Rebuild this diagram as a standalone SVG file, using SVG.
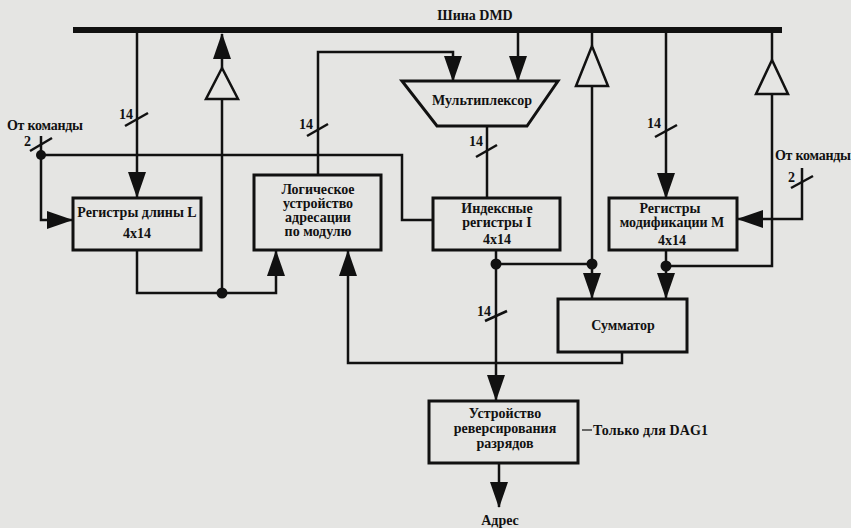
<svg xmlns="http://www.w3.org/2000/svg" width="851" height="528" viewBox="0 0 851 528">
<style>
text{font-family:"Liberation Serif","Times New Roman",serif;font-weight:bold;fill:#111;}
.t{font-size:14px;text-anchor:middle;}
.s{font-size:14px;}
.box{fill:none;stroke:#111;stroke-width:3;}
.w{fill:none;stroke:#111;stroke-width:2.5;}
.buf{fill:none;stroke:#111;stroke-width:2.5;}
.dot{fill:#111;}
</style>
<defs>
<marker id="arr" markerUnits="userSpaceOnUse" markerWidth="26" markerHeight="18" viewBox="0 0 26 18" refX="25" refY="9" orient="auto">
<path d="M0,0 L26,9 L0,18 z" fill="#111"/>
</marker>
</defs>
<rect width="851" height="528" fill="#e5e5e3"/>

<g id="bus">
<rect x="73" y="27" width="709" height="6" fill="#111"/>
<text class="t" x="475" y="20">Шина DMD</text>
</g>

<g id="connectors">
<!-- bus to L regs -->
<path class="w" d="M137,33 V197" marker-end="url(#arr)"/>
<line class="w" x1="125" y1="126" x2="148" y2="113"/>
<text class="s" x="119" y="119">14</text>
<!-- buffer 1 to bus -->
<path class="w" d="M222,99 V293"/>
<path class="w" d="M222,68 V34" marker-end="url(#arr)"/>
<!-- left command input -->
<path class="w" d="M41,136 V220 H72" marker-end="url(#arr)"/>
<line class="w" x1="30" y1="151" x2="52" y2="138"/>
<text class="s" x="24" y="146">2</text>
<text class="s" x="7" y="130" textLength="76">От команды</text>
<circle class="dot" cx="41" cy="155" r="5"/>
<path class="w" d="M41,155 H402 V220 H433"/>
<!-- L regs to modulo logic -->
<path class="w" d="M137,250 V293 H276 V251" marker-end="url(#arr)"/>
<circle class="dot" cx="222" cy="293" r="5.5"/>
<!-- modulo logic to multiplexer -->
<path class="w" d="M318,175 V52 H453 V81" marker-end="url(#arr)"/>
<line class="w" x1="307" y1="136" x2="328" y2="124"/>
<text class="s" x="299" y="129">14</text>
<!-- bus to multiplexer -->
<path class="w" d="M518,33 V81" marker-end="url(#arr)"/>
<!-- multiplexer to I regs -->
<path class="w" d="M487,126 V198"/>
<line class="w" x1="476" y1="157" x2="497" y2="145"/>
<text class="s" x="469" y="146">14</text>
<!-- buffer 2 -->
<path class="w" d="M592,33 V46"/>
<path class="w" d="M592,86 V264"/>
<path class="w" d="M592,264 V298" marker-end="url(#arr)"/>
<!-- I regs outputs -->
<path class="w" d="M496,250 V264 H592"/>
<circle class="dot" cx="496" cy="264" r="5.5"/>
<circle class="dot" cx="592" cy="264" r="5.5"/>
<path class="w" d="M496,264 V400" marker-end="url(#arr)"/>
<line class="w" x1="485" y1="321" x2="507" y2="311"/>
<text class="s" x="477" y="316">14</text>
<!-- bus to M regs -->
<path class="w" d="M666,33 V198" marker-end="url(#arr)"/>
<line class="w" x1="655" y1="137" x2="677" y2="125"/>
<text class="s" x="647" y="128">14</text>
<!-- buffer 3 -->
<path class="w" d="M772,33 V60"/>
<path class="w" d="M772,94 V266 H666"/>
<!-- M regs to adder -->
<path class="w" d="M666,250 V298" marker-end="url(#arr)"/>
<circle class="dot" cx="666" cy="266" r="5.5"/>
<!-- right command input -->
<path class="w" d="M802,168 V219 H738" marker-end="url(#arr)"/>
<line class="w" x1="791" y1="188" x2="813" y2="176"/>
<text class="s" x="788" y="182">2</text>
<text class="s" x="775" y="160" textLength="76">От команды</text>
<!-- adder back to modulo logic -->
<path class="w" d="M622,352 V363 H348 V251" marker-end="url(#arr)"/>
<!-- reverse to address -->
<path class="w" d="M499,463 V507" marker-end="url(#arr)"/>
<text class="t" x="500" y="525">Адрес</text>
<line class="w" x1="582" y1="430" x2="592" y2="430" style="stroke-width:1.2"/>
<text class="s" x="593" y="435" textLength="115">Только для DAG1</text>
</g>

<g id="buffer1"><polygon class="buf" points="222,68 206,99 238,99"/></g>
<g id="buffer2"><polygon class="buf" points="592,46 576,86 608,86"/></g>
<g id="buffer3"><polygon class="buf" points="772,60 756,94 788,94"/></g>

<g id="mux">
<polygon class="box" points="402,81 558,81 527,126 437,126"/>
<text class="t" x="482" y="105">Мультиплексор</text>
</g>

<g id="regL">
<rect class="box" x="73" y="198" width="128" height="52"/>
<text class="t" x="137" y="217">Регистры длины L</text>
<text class="t" x="137" y="238">4x14</text>
</g>

<g id="modlogic">
<rect class="box" x="254" y="175" width="127" height="75"/>
<text class="t" x="318" y="194">Логическое</text>
<text class="t" x="318" y="208">устройство</text>
<text class="t" x="318" y="222">адресации</text>
<text class="t" x="318" y="236">по модулю</text>
</g>

<g id="regI">
<rect class="box" x="433" y="198" width="127" height="52"/>
<text class="t" x="497" y="213">Индексные</text>
<text class="t" x="497" y="227">регистры I</text>
<text class="t" x="497" y="244">4x14</text>
</g>

<g id="regM">
<rect class="box" x="609" y="198" width="128" height="52"/>
<text class="t" x="670" y="213">Регистры</text>
<text class="t" x="672" y="227">модификации M</text>
<text class="t" x="672" y="245">4x14</text>
</g>

<g id="adder">
<rect class="box" x="558" y="299" width="129" height="53"/>
<text class="t" x="623" y="330">Сумматор</text>
</g>

<g id="bitrev">
<rect class="box" x="429" y="401" width="149" height="62"/>
<text class="t" x="505" y="418">Устройство</text>
<text class="t" x="505" y="433">реверсирования</text>
<text class="t" x="505" y="448">разрядов</text>
</g>
</svg>
